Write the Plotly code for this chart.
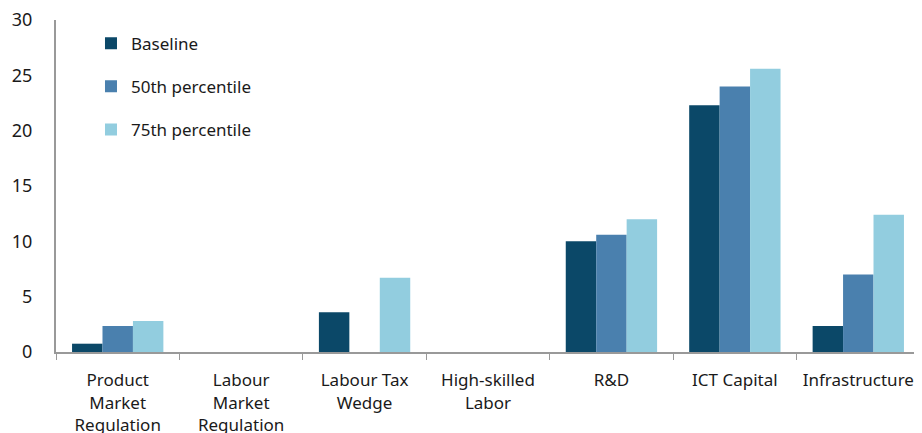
import plotly.graph_objects as go

categories = ["Product<br>Market<br>Regulation", "Labour<br>Market<br>Regulation", "Labour Tax<br>Wedge",
              "High-skilled<br>Labor", "R&D", "ICT Capital", "Infrastructure"]
baseline = [0.75, 0, 3.6, 0, 10.0, 22.3, 2.35]
p50 = [2.35, 0, 0, 0, 10.6, 24.0, 7.0]
p75 = [2.8, 0, 6.7, 0, 12.0, 25.6, 12.4]

series = [("Baseline", baseline, "#0B4868"), ("50th percentile", p50, "#4A80AE"), ("75th percentile", p75, "#92CDDF")]

fig = go.Figure()
for i, (name, vals, col) in enumerate(series):
    fig.add_trace(go.Bar(x=categories, y=vals, name=name, marker_color=col, marker_line_width=0,
                         legendgroup=f"g{i}"))

font = "Noto Sans, Open Sans, sans-serif"
fig.update_layout(
    template="none",
    width=914, height=425,
    margin=dict(l=48, r=2, t=12, b=81),
    paper_bgcolor="white", plot_bgcolor="white",
    barmode="group", bargap=0.26, bargroupgap=0,
    font=dict(family=font, size=17, color="#1a1a1a"),
    showlegend=True,
    legend=dict(x=0.0405, y=0.983, xanchor="left", yanchor="top", bgcolor="rgba(0,0,0,0)",
                tracegroupgap=18, traceorder="grouped", font=dict(size=17)),
    xaxis=dict(automargin=False, showline=True, linecolor="#999999", linewidth=2,
               ticks="outside", tickson="boundaries", ticklen=6, tickcolor="#999999",
               showgrid=False, tickfont=dict(size=17), zeroline=False, tickangle=0,
               ticklabeloverflow="allow", ticklabelstandoff=12),
    yaxis=dict(automargin=False, range=[0, 30], dtick=5, showline=True, linecolor="#999999", linewidth=2,
               ticks="", showgrid=False, zeroline=False, tickfont=dict(size=18), ticklabelstandoff=18,
               ticklabeloverflow="allow"),
)
fig.write_html("out.html")
